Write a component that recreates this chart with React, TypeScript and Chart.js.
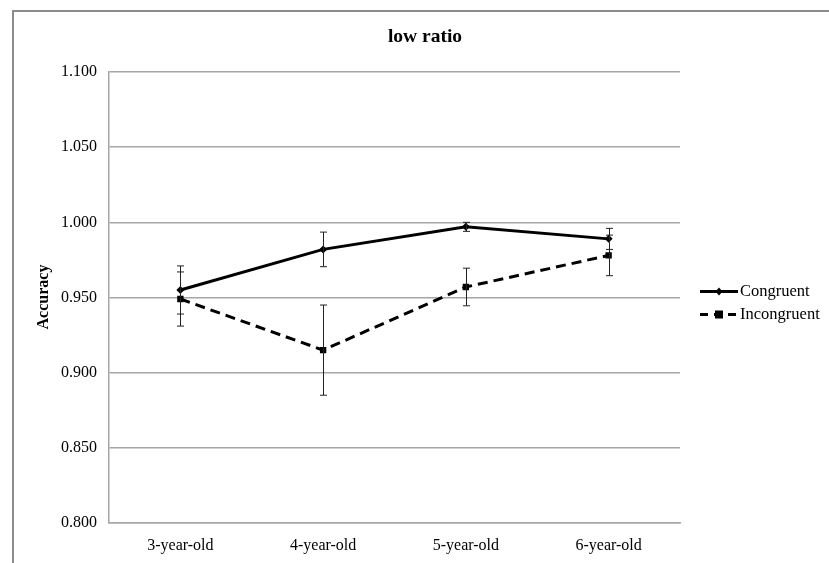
import React, { useEffect, useRef } from "react";
import { Chart, registerables } from "chart.js";

Chart.register(...registerables);

const categories = ["3-year-old", "4-year-old", "5-year-old", "6-year-old"];
const congruent = [0.955, 0.982, 0.997, 0.989];
const congruentErr = [0.016, 0.0115, 0.003, 0.007];
const incongruent = [0.949, 0.915, 0.957, 0.978];
const incongruentErr = [0.018, 0.03, 0.0125, 0.0135];
const yTicks = [0.8, 0.85, 0.9, 0.95, 1.0, 1.05, 1.1];
const titleText = "low ratio";
const yAxisTitle = "Accuracy";
const seriesNames = ["Congruent", "Incongruent"];

const SERIF = "'Liberation Serif', 'Times New Roman', serif";

const framePlugin = {
  id: "frame",
  beforeDraw(chart: any) {
    const ctx = chart.ctx;
    ctx.save();
    ctx.fillStyle = "#ffffff";
    ctx.fillRect(0, 0, chart.width, chart.height);
    ctx.strokeStyle = "#8c8c8c";
    ctx.lineWidth = 2;
    ctx.strokeRect(13, 11, chart.width + 50, chart.height + 50);
    // title
    ctx.fillStyle = "#000";
    ctx.font = `bold 19.5px ${SERIF}`;
    ctx.textAlign = "center";
    ctx.textBaseline = "middle";
    ctx.fillText(titleText, 425, 37);
    // y axis title
    ctx.translate(44, 297);
    ctx.rotate(-Math.PI / 2);
    ctx.font = `bold 16px ${SERIF}`;
    ctx.fillText(yAxisTitle, 0, 0);
    ctx.restore();
  },
};

const errorBarPlugin = {
  id: "errorBars",
  afterDatasetsDraw(chart: any) {
    const ctx = chart.ctx;
    const x = chart.scales.x;
    const y = chart.scales.y;
    const sets = [
      [congruent, congruentErr],
      [incongruent, incongruentErr],
    ];
    ctx.save();
    ctx.strokeStyle = "#222";
    ctx.lineWidth = 1;
    sets.forEach(([vals, errs]) => {
      vals.forEach((v: number, i: number) => {
        const px = Math.round(x.getPixelForValue(i)) + 0.5;
        const top = y.getPixelForValue(v + errs[i]);
        const bot = y.getPixelForValue(v - errs[i]);
        ctx.beginPath();
        ctx.moveTo(px, top);
        ctx.lineTo(px, bot);
        ctx.moveTo(px - 3.5, top);
        ctx.lineTo(px + 3.5, top);
        ctx.moveTo(px - 3.5, bot);
        ctx.lineTo(px + 3.5, bot);
        ctx.stroke();
      });
    });
    ctx.restore();
  },
  afterDraw(chart: any) {
    const ctx = chart.ctx;
    ctx.save();
    const x0 = 700;
    const x1 = 738;
    const ys = [291.5, 314.5];
    ctx.strokeStyle = "#000";
    ctx.fillStyle = "#000";
    ctx.lineWidth = 3;
    // Congruent
    ctx.beginPath();
    ctx.moveTo(x0, ys[0]);
    ctx.lineTo(x1, ys[0]);
    ctx.stroke();
    const cx = (x0 + x1) / 2;
    ctx.beginPath();
    ctx.moveTo(cx, ys[0] - 4);
    ctx.lineTo(cx + 3.5, ys[0]);
    ctx.lineTo(cx, ys[0] + 4);
    ctx.lineTo(cx - 3.5, ys[0]);
    ctx.closePath();
    ctx.fill();
    // Incongruent
    ctx.setLineDash([8, 6]);
    ctx.beginPath();
    ctx.moveTo(x0, ys[1]);
    ctx.lineTo(x1, ys[1]);
    ctx.stroke();
    ctx.setLineDash([]);
    ctx.fillRect(cx - 4, ys[1] - 4, 8, 8);
    ctx.font = `16.5px ${SERIF}`;
    ctx.textAlign = "left";
    ctx.textBaseline = "middle";
    ctx.fillText(seriesNames[0], 740, ys[0]);
    ctx.fillText(seriesNames[1], 740, ys[1]);
    ctx.restore();
  },
};

export default function App() {
  const ref = useRef<HTMLCanvasElement | null>(null);
  useEffect(() => {
    document.body.style.margin = "0";
    const canvas = ref.current!;
    const chart = new Chart(canvas, {
      type: "line",
      data: {
        labels: categories,
        datasets: [
          {
            label: seriesNames[0],
            data: congruent,
            borderColor: "#000",
            backgroundColor: "#000",
            borderWidth: 3,
            pointStyle: "rectRot",
            pointRadius: 4,
            pointBorderWidth: 0,
            tension: 0,
          },
          {
            label: seriesNames[1],
            data: incongruent,
            borderColor: "#000",
            backgroundColor: "#000",
            borderWidth: 3,
            borderDash: [10, 6],
            pointStyle: "rect",
            pointRadius: 4.5,
            pointBorderWidth: 0,
            tension: 0,
          },
        ],
      },
      options: {
        animation: false,
        responsive: false,
        maintainAspectRatio: false,
        layout: { padding: { left: 0, right: 149, top: 72, bottom: 0 } },
        plugins: {
          legend: { display: false },
          title: { display: false },
          tooltip: { enabled: false },
        },
        scales: {
          x: {
            type: "category",
            offset: true,
            grid: { display: false, drawTicks: false },
            border: { display: true, color: "#a6a6a6", width: 1.5 },
            ticks: {
              color: "#000",
              font: { family: SERIF, size: 16 },
              padding: 13,
              maxRotation: 0,
            },
            afterFit(scale: any) {
              scale.height = 40;
            },
          },
          y: {
            min: 0.8,
            max: 1.1,
            afterBuildTicks(scale: any) {
              scale.ticks = yTicks.map((v) => ({ value: v }));
            },
            grid: { color: "#a6a6a6", lineWidth: 1.5, drawTicks: false },
            border: { display: true, color: "#a6a6a6", width: 1.5 },
            ticks: {
              color: "#000",
              font: { family: SERIF, size: 16 },
              padding: 12,
              callback: (v: any) => Number(v).toFixed(3),
            },
            afterFit(scale: any) {
              scale.width = 109;
            },
          },
        },
      },
      plugins: [framePlugin, errorBarPlugin],
    });
    return () => chart.destroy();
  }, []);
  return (
    <div style={{ width: 829, height: 563, position: "relative" }}>
      <canvas ref={ref} width={829} height={563} style={{ display: "block" }} />
    </div>
  );
}
